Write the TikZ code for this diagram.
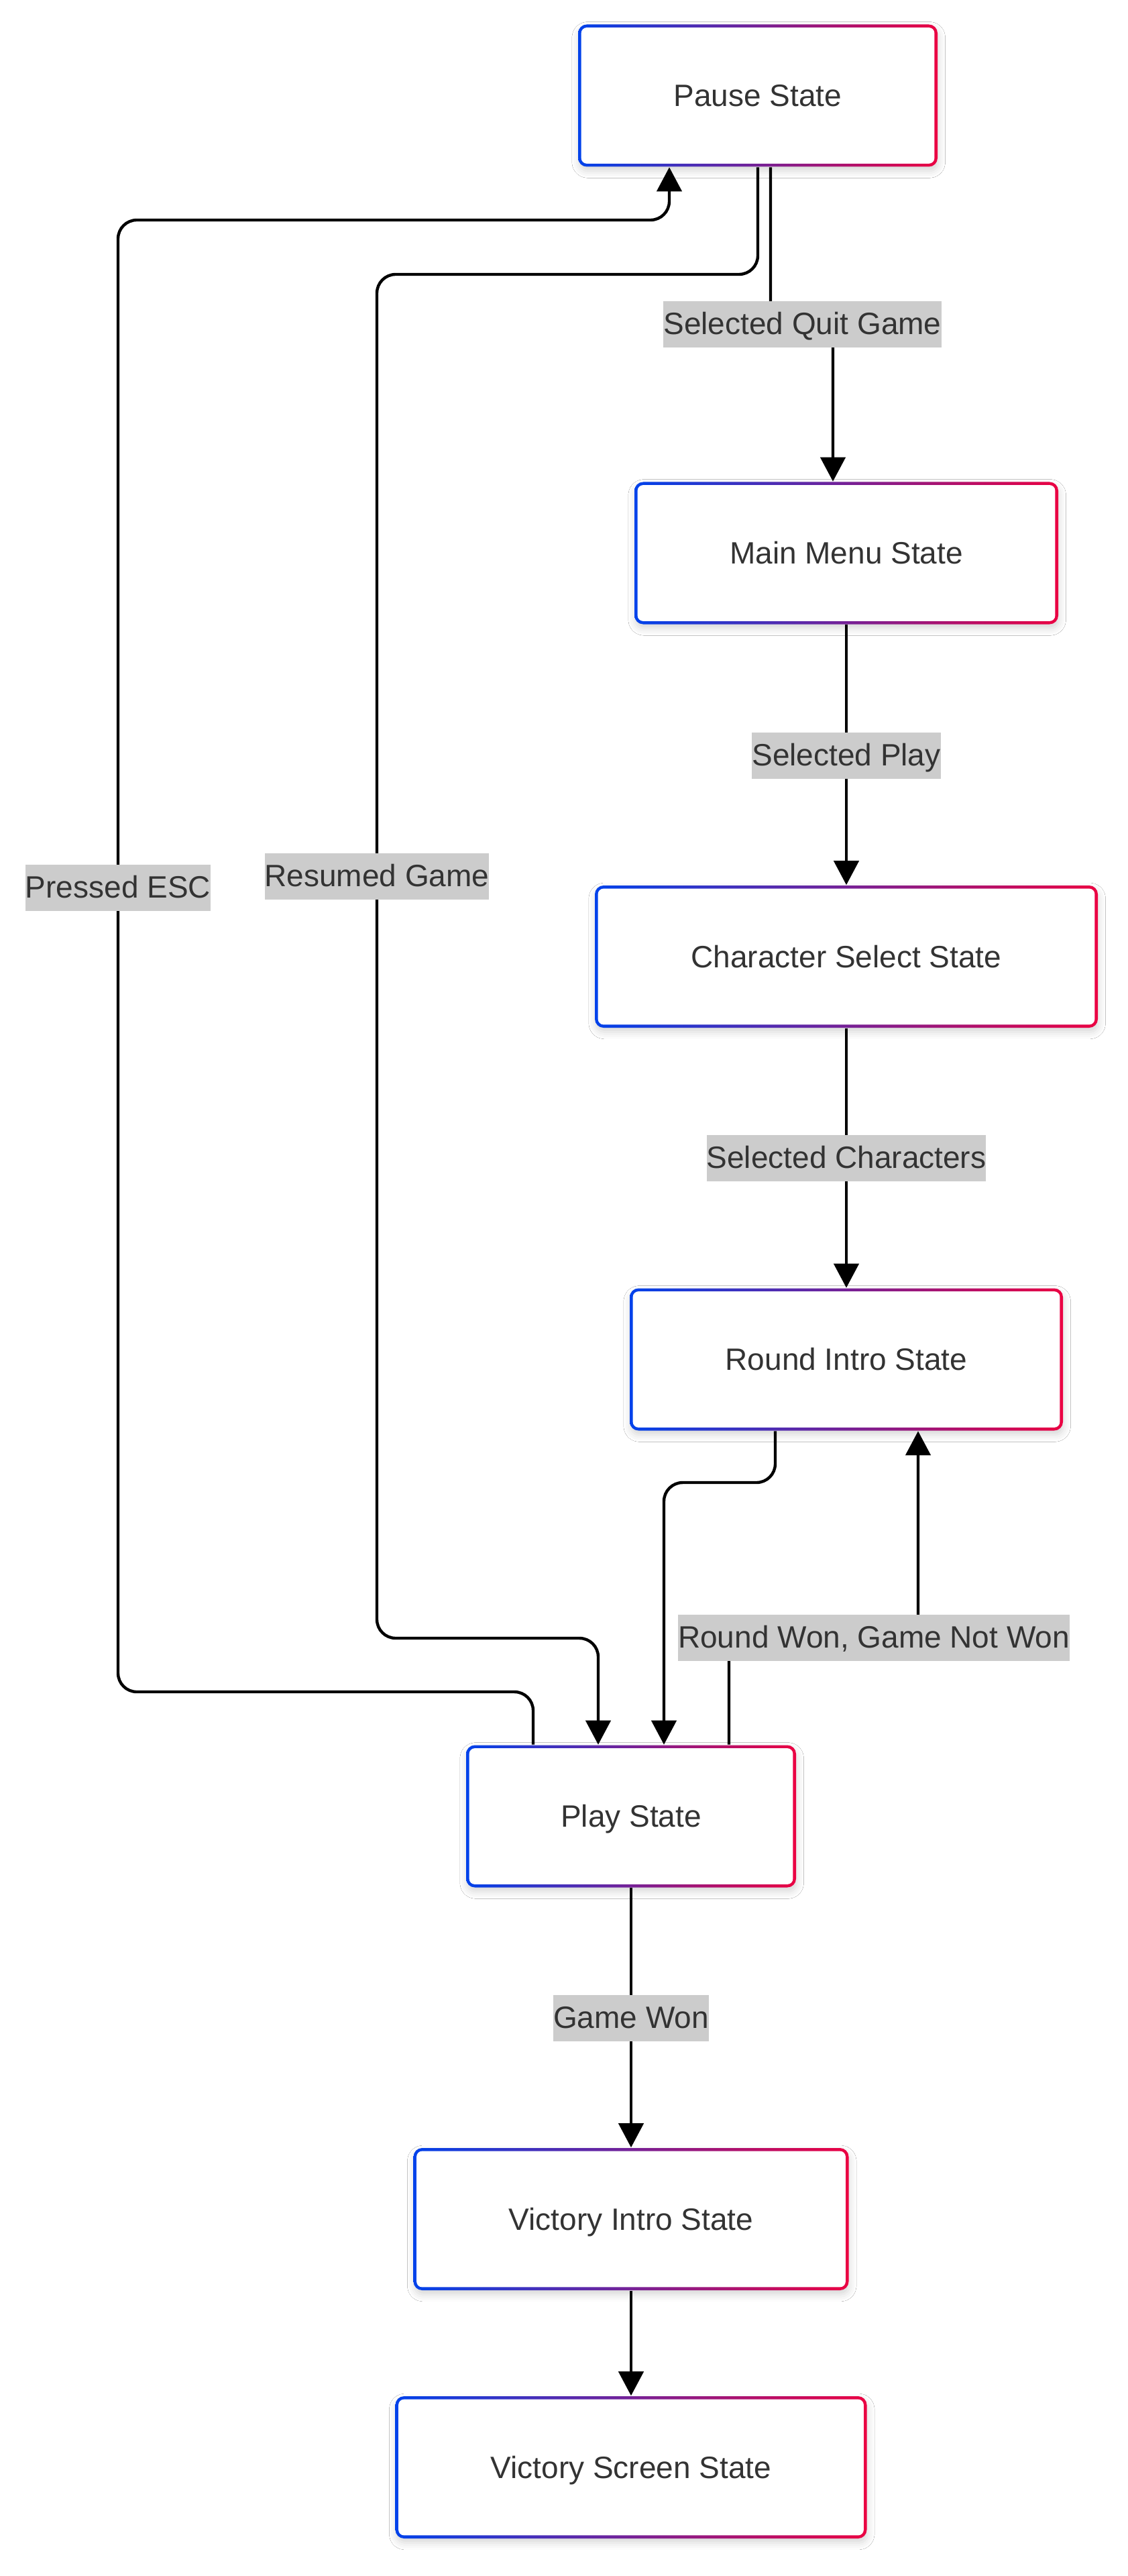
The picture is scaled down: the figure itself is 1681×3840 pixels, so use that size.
\documentclass[tikz,border=0pt]{standalone}
\usepackage{fontspec}
\setmainfont{Liberation Sans}
\usetikzlibrary{arrows.meta,shadows.blur}
\definecolor{nodeblue}{HTML}{0042EB}
\definecolor{nodered}{HTML}{EB0042}
\definecolor{txt}{HTML}{333333}
\definecolor{lblbg}{HTML}{CCCCCC}
\begin{document}
\begin{tikzpicture}[x=0.25pt,y=-0.25pt,
  state/.style={rounded corners=3.25pt, inner sep=0pt, minimum height=53pt,
    left color=nodeblue, right color=nodered, text=txt,
    font=\fontsize{11.5pt}{13.8pt}\selectfont, text height=9pt, text depth=0.8pt,
    blur shadow={shadow xshift=0.3pt, shadow yshift=-1.6pt, shadow blur radius=2.6pt, shadow opacity=16},
    path picture={\fill[white,rounded corners=2.1pt]
      ([xshift=1.15pt,yshift=-1.15pt]path picture bounding box.north west) rectangle
      ([xshift=-1.15pt,yshift=1.15pt]path picture bounding box.south east);}},
  edge/.style={draw=black, line width=1.1pt, rounded corners=7pt,
    -{Triangle[length=9pt,width=9.25pt]}},
  elabel/.style={fill=lblbg, text=txt, inner xsep=0pt, inner ysep=3.375pt,
    text height=9pt, text depth=1.5pt, font=\fontsize{11.5pt}{13.8pt}\selectfont}]
\useasboundingbox[fill=white] (0,0) rectangle (1681,3840);

% states
\node[state, minimum width=134pt]    (pause) at (1130,142.5) {Pause State};
\node[state, minimum width=158pt]    (main)  at (1262,824.5) {Main Menu State};
\node[state, minimum width=187.5pt]  (char)  at (1262,1426)  {Character Select State};
\node[state, minimum width=161.5pt]  (round) at (1262,2026.5) {Round Intro State};
\node[state, minimum width=123pt]    (play)  at (941,2707.5) {Play State};
\node[state, minimum width=162.25pt] (vi)    at (941,3308)   {Victory Intro State};
\node[state, minimum width=175.75pt] (vs)    at (941,3678)   {Victory Screen State};

% route points
\coordinate (q1) at (1149,483.5);
\coordinate (q2) at (1242,483.5);
\coordinate (r1) at (1156,2210);
\coordinate (r2) at (990,2210);
\coordinate (w1) at (1087,2441.5);
\coordinate (w2) at (1369,2441.5);
\coordinate (e1) at (795,2522);
\coordinate (e2) at (176,2522);
\coordinate (e3) at (176,328);
\coordinate (e4) at (998,328);
\coordinate (s1) at (1130,409);
\coordinate (s2) at (562,409);
\coordinate (s3) at (562,2442);
\coordinate (s4) at (892,2442);

% edges
\draw[edge] (pause.south -| q1) -- (q1) -- (q2) -- (main.north -| q2);
\draw[edge] (main.south) -- (char.north);
\draw[edge] (char.south) -- (round.north);
\draw[edge] (round.south -| r1) -- (r1) -- (r2) -- (play.north -| r2);
\draw[edge] (play.north -| w1) -- (w1) -- (w2) -- (round.south -| w2);
\draw[edge] (play.north -| e1) -- (e1) -- (e2) -- (e3) -- (e4) -- (pause.south -| e4);
\draw[edge] (pause.south -| s1) -- (s1) -- (s2) -- (s3) -- (s4) -- (play.north -| s4);
\draw[edge] (play.south) -- (vi.north);
\draw[edge] (vi.south) -- (vs.north);

% labels
\node[elabel] (lquit)  at (1196.5,483.5) {Selected Quit Game};
\node[elabel] (lplay)  at (1262,1126)    {Selected Play};
\node[elabel] (lchar)  at (1262,1726)    {Selected Characters};
\node[elabel] (lround) at (1303,2441.5)  {Round Won, Game Not Won};
\node[elabel] (lesc)   at (176,1323.5)   {Pressed ESC};
\node[elabel] (lres)   at (562,1306.5)   {Resumed Game};
\node[elabel] (lwon)   at (941,3008)     {Game Won};
\end{tikzpicture}
\end{document}
